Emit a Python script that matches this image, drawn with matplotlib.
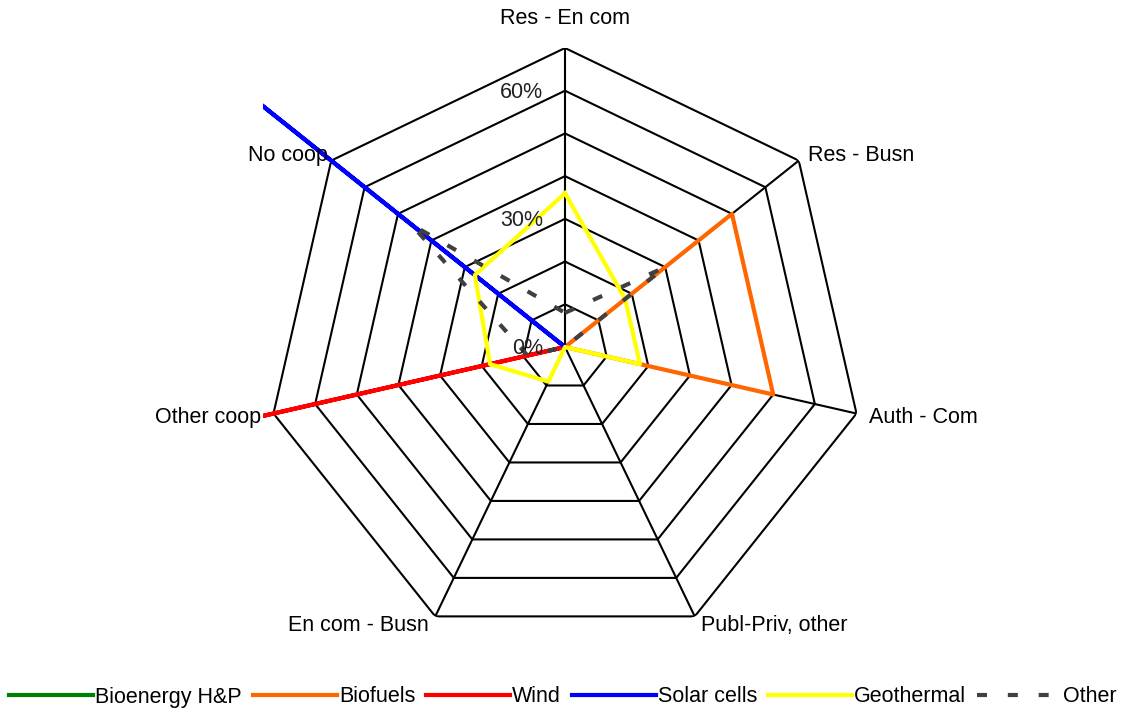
import numpy as np
import matplotlib
matplotlib.use("Agg")
import matplotlib.pyplot as plt
from matplotlib.patches import Rectangle
from matplotlib.lines import Line2D

categories = ["Res - En com", "Res - Busn", "Auth - Com", "Publ-Priv, other",
              "En com - Busn", "Other coop", "No coop"]
bioenergy = [0, 0, 0, 0, 0, 0, 0]
biofuels = [0, 50, 50, 0, 0, 0, 0]
wind = [0, 0, 0, 0, 0, 80, 0]
solar = [0, 0, 0, 0, 0, 0, 100]
geothermal = [36, 18, 18, 0, 9, 18, 27]
other = [8, 30, 0, 0, 0, 9, 46]
series_names = ["Bioenergy H&P", "Biofuels", "Wind", "Solar cells", "Geothermal", "Other"]
series_vals = [bioenergy, biofuels, wind, solar, geothermal, other]
colors = ["#008000", "#FF6600", "#FF0000", "#0000FF", "#FFFF00", "#404040"]
rings = [10, 20, 30, 40, 50, 60, 70]
tick_vals = [0, 30, 60]

plt.rcParams['font.family'] = ['Liberation Sans', 'DejaVu Sans']
fs = 15.5

W, H = 1126, 709
fig = plt.figure(figsize=(W / 100, H / 100), dpi=100)
cx, cy, R = 565, 347, 299
ax = fig.add_axes([(cx - R) / W, (H - cy - R) / H, 2 * R / W, 2 * R / H], projection='polar')
ax.set_theta_zero_location('N')
ax.set_theta_direction(-1)
ax.grid(False)
ax.spines['polar'].set_visible(False)
ax.set_xticks([])
ax.set_yticks([])
ax.patch.set_visible(False)

n = len(categories)
ang = np.arange(n) * 2 * np.pi / n
ang_c = np.append(ang, ang[0])

for r in rings:
    ax.plot(ang_c, [r] * (n + 1), color='black', lw=1.5, zorder=1)
for a in ang:
    ax.plot([a, a], [0, rings[-1]], color='black', lw=1.5, zorder=1)

# plot area: lines running past the outer ring are cut at its left edge
clip = Rectangle((263 / W, 0), (2 * cx - 2 * 263) / W, 1, transform=fig.transFigure)
for name, vals, c in zip(series_names, series_vals, colors):
    v = vals + [vals[0]]
    ls = (0, (2.4, 5)) if name == "Other" else '-'
    ln, = ax.plot(ang_c, v, color=c, lw=3, ls=ls, zorder=3)
    ln.set_clip_on(True)
    ln.set_clip_path(clip)

# axis labels
offs = [(0, 30, 'center', 'center'), (9, 5, 'left', 'center'), (12, -4, 'left', 'center'),
        (6, -9, 'left', 'center'), (-7, -9, 'right', 'center'), (-12, -4, 'right', 'center'),
        (-3, 5, 'right', 'center')]
for a, lab, (dx, dy, ha, va) in zip(ang, categories, offs):
    ax.annotate(lab, xy=(a, rings[-1]), xytext=(dx, dy), textcoords='offset pixels',
                ha=ha, va=va, fontsize=fs, annotation_clip=False)

for t in tick_vals:
    ax.annotate("%d%%" % t, xy=(0, t), xytext=(-22, -2), textcoords='offset pixels',
                ha='right', va='center', fontsize=fs, color='#222222')

ax.set_ylim(0, rings[-1])

handles = []
for name, c in zip(series_names, colors):
    ls = (0, (2.4, 5)) if name == "Other" else '-'
    handles.append(Line2D([0], [0], color=c, lw=3, ls=ls))
fig.legend(handles, series_names, loc='center', bbox_to_anchor=(0.5, 1 - 697 / H), ncol=6,
           frameon=False, fontsize=fs, handlelength=3.9, handletextpad=0.1,
           columnspacing=0.5)

fig.savefig("out.png", dpi=100)
